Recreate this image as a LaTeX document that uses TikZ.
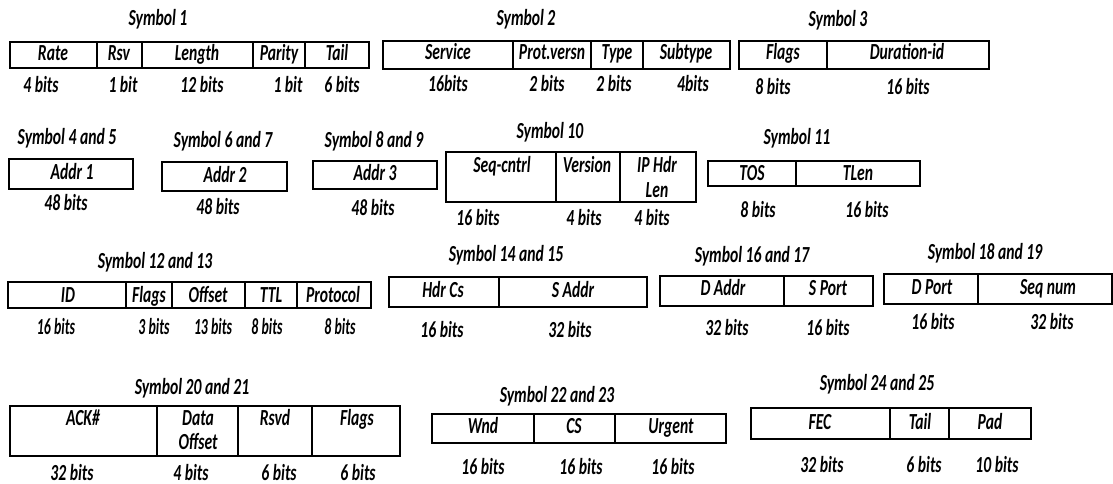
\documentclass[tikz,border=0pt]{standalone}
\usepackage{fontspec}
\newfontfamily\fieldfont[FakeStretch=0.68]{Carlito}
\newfontfamily\fieldfontnarrow[FakeStretch=0.6]{Carlito}

% outer frame of a field group, with named corners
\newcommand\FieldBox[5]{%
  \coordinate (#1-nw) at (#2,#3);
  \coordinate (#1-se) at (#4,#5);
  \draw[rule] (#1-nw) rectangle (#1-se);}
% vertical separator between two fields of a group
\newcommand\FieldSep[2]{%
  \draw[rule] (#2,0 |- #1-nw) -- (#2,0 |- #1-se);}
% text placed by its baseline
\newcommand\Txt[5][]{\node[lab,#1] (#2) at (#3,#4) {#5};}

\begin{document}
\begin{tikzpicture}[x=1pt,y=-1pt,
  rule/.style={draw=black,line width=1.3pt},
  lab/.style={inner sep=0pt,anchor=base,text=black,
    font=\fieldfont\bfseries\itshape\fontsize{23}{25}\selectfont},
  narrow/.style={font=\fieldfontnarrow\bfseries\itshape\fontsize{23}{25}\selectfont}]
\useasboundingbox[fill=white] (0,0) rectangle (1113,484);

% ---------- Symbol 1 ----------
\Txt{s1t}{158}{26}{Symbol 1}
\FieldBox{s1}{10}{42}{369}{68}
\FieldSep{s1}{97}\FieldSep{s1}{142}\FieldSep{s1}{253}\FieldSep{s1}{305}
\Txt{s1a}{53}{61}{Rate}
\Txt{s1b}{119}{61}{Rsv}
\Txt{s1c}{197}{61}{Length}
\Txt{s1d}{279}{61}{Parity}
\Txt{s1e}{337}{61}{Tail}
\Txt{s1ba}{41}{93}{4 bits}
\Txt{s1bb}{123}{93}{1 bit}
\Txt{s1bc}{202}{93}{12 bits}
\Txt{s1bd}{288}{93}{1 bit}
\Txt{s1be}{342}{93}{6 bits}

% ---------- Symbol 2 ----------
\Txt{s2t}{526}{26}{Symbol 2}
\FieldBox{s2}{383}{41}{730}{69}
\FieldSep{s2}{513}\FieldSep{s2}{591}\FieldSep{s2}{643}
\Txt{s2a}{448}{60}{Service}
\Txt{s2b}{552}{60}{Prot.versn}
\Txt{s2c}{617}{60}{Type}
\Txt{s2d}{686}{60}{Subtype}
\Txt{s2ba}{448}{92}{16bits}
\Txt{s2bb}{547}{92}{2 bits}
\Txt{s2bc}{614}{92}{2 bits}
\Txt{s2bd}{693}{92}{4bits}

% ---------- Symbol 3 ----------
\Txt{s3t}{838}{27}{Symbol 3}
\FieldBox{s3}{739}{41}{989}{69}
\FieldSep{s3}{827}
\Txt{s3a}{783}{60}{Flags}
\Txt{s3b}{907}{60}{Duration-id}
\Txt{s3ba}{773}{95}{8 bits}
\Txt{s3bb}{908}{95}{16 bits}

% ---------- Symbols 4 to 9 ----------
\Txt{s4t}{67}{144}{Symbol 4 and 5}
\FieldBox{s4}{9}{159}{133}{189}
\Txt{s4a}{72}{179}{Addr 1}
\Txt{s4ba}{66}{210}{48 bits}

\Txt{s6t}{223}{147}{Symbol 6 and 7}
\FieldBox{s6}{162}{162}{287}{191}
\Txt{s6a}{225}{182}{Addr 2}
\Txt{s6ba}{218}{214}{48 bits}

\Txt{s8t}{374}{147}{Symbol 8 and 9}
\FieldBox{s8}{313}{161}{437}{189}
\Txt{s8a}{375}{180}{Addr 3}
\Txt{s8ba}{373}{215}{48 bits}

% ---------- Symbol 10 ----------
\Txt{s10t}{550}{139}{Symbol 10}
\FieldBox{s10}{446}{152}{696}{202}
\FieldSep{s10}{556}\FieldSep{s10}{620}
\Txt{s10a}{502}{172}{Seq-cntrl}
\Txt{s10b}{587}{172}{Version}
\Txt{s10c}{657}{172}{IP Hdr}
\Txt{s10d}{657}{197}{Len}
\Txt{s10ba}{478}{225}{16 bits}
\Txt{s10bb}{584}{225}{4 bits}
\Txt{s10bc}{652}{225}{4 bits}

% ---------- Symbol 11 ----------
\Txt{s11t}{797}{144}{Symbol 11}
\FieldBox{s11}{708}{161}{920}{186}
\FieldSep{s11}{796}
\Txt{s11a}{752}{180}{TOS}
\Txt{s11b}{858}{180}{TLen}
\Txt{s11ba}{758}{217}{8 bits}
\Txt{s11bb}{867}{217}{16 bits}

% ---------- Symbol 12 and 13 ----------
\Txt{s12t}{155}{268}{Symbol 12 and 13}
\FieldBox{s12}{8}{282}{371}{308}
\FieldSep{s12}{126}\FieldSep{s12}{172}\FieldSep{s12}{245}\FieldSep{s12}{297}
\Txt{s12a}{68}{302}{ID}
\Txt{s12b}{149}{302}{Flags}
\Txt{s12c}{208}{302}{Offset}
\Txt{s12d}{271}{302}{TTL}
\Txt{s12e}{333}{302}{Protocol}
\Txt[narrow]{s12ba}{56}{334}{16 bits}
\Txt[narrow]{s12bb}{154}{334}{3 bits}
\Txt[narrow]{s12bc}{213}{334}{13 bits}
\Txt[narrow]{s12bd}{267}{334}{8 bits}
\Txt[narrow]{s12be}{340}{334}{8 bits}

% ---------- Symbol 14 and 15 ----------
\Txt{s14t}{506}{261}{Symbol 14 and 15}
\FieldBox{s14}{389}{277}{647}{307}
\FieldSep{s14}{499}
\Txt{s14a}{443}{297}{Hdr Cs}
\Txt{s14b}{573}{297}{S Addr}
\Txt{s14ba}{442}{337}{16 bits}
\Txt{s14bb}{570}{337}{32 bits}

% ---------- Symbol 16 and 17 ----------
\Txt{s16t}{752}{262}{Symbol 16 and 17}
\FieldBox{s16}{660}{276}{873}{306}
\FieldSep{s16}{784}
\Txt{s16a}{723}{295}{D Addr}
\Txt{s16b}{828}{295}{S Port}
\Txt{s16ba}{727}{335}{32 bits}
\Txt{s16bb}{828}{335}{16 bits}

% ---------- Symbol 18 and 19 ----------
\Txt{s18t}{985}{259}{Symbol 18 and 19}
\FieldBox{s18}{884}{274}{1112}{304}
\FieldSep{s18}{978}
\Txt{s18a}{932}{294}{D Port}
\Txt{s18b}{1048}{294}{Seq num}
\Txt{s18ba}{933}{329}{16 bits}
\Txt{s18bb}{1052}{329}{32 bits}

% ---------- Symbol 20 and 21 ----------
\Txt{s20t}{192}{394}{Symbol 20 and 21}
\FieldBox{s20}{10}{406}{400}{456}
\FieldSep{s20}{157}\FieldSep{s20}{238}\FieldSep{s20}{312}
\Txt{s20a}{83}{425}{ACK\#}
\Txt{s20b}{198}{425}{Data}
\Txt{s20c}{198}{449}{Offset}
\Txt{s20d}{275}{425}{Rsvd}
\Txt{s20e}{357}{425}{Flags}
\Txt{s20ba}{72}{480}{32 bits}
\Txt{s20bb}{191}{480}{4 bits}
\Txt{s20bc}{279}{480}{6 bits}
\Txt{s20bd}{358}{480}{6 bits}

% ---------- Symbol 22 and 23 ----------
\Txt{s22t}{557}{402}{Symbol 22 and 23}
\FieldBox{s22}{432}{414}{726}{443}
\FieldSep{s22}{534}\FieldSep{s22}{615}
\Txt{s22a}{483}{433}{Wnd}
\Txt{s22b}{574}{433}{CS}
\Txt{s22c}{671}{433}{Urgent}
\Txt{s22ba}{483}{474}{16 bits}
\Txt{s22bb}{581}{474}{16 bits}
\Txt{s22bc}{673}{474}{16 bits}

% ---------- Symbol 24 and 25 ----------
\Txt{s24t}{877}{390}{Symbol 24 and 25}
\FieldBox{s24}{751}{408}{1031}{439}
\FieldSep{s24}{890}\FieldSep{s24}{949}
\Txt{s24a}{820}{429}{FEC}
\Txt{s24b}{920}{429}{Tail}
\Txt{s24c}{990}{429}{Pad}
\Txt{s24ba}{822}{472}{32 bits}
\Txt{s24bb}{924}{472}{6 bits}
\Txt{s24bc}{997}{472}{10 bits}
\end{tikzpicture}
\end{document}
